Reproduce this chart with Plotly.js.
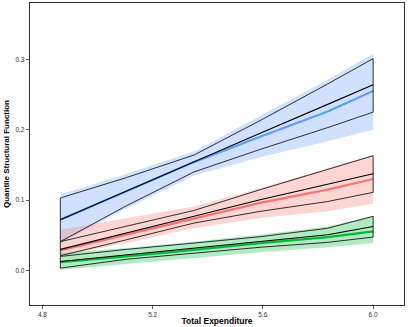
<!DOCTYPE html>
<html>
<head>
<meta charset="utf-8">
<script src="https://cdn.plot.ly/plotly-3.0.1.min.js"></script>
<style>html,body{margin:0;padding:0;background:#fff;}#chart{width:409px;height:327px;}</style>
</head>
<body>
<div id="chart"></div>
<script>
// Total expenditure grid
var expenditure = [4.865, 5.105, 5.35, 5.59, 5.835, 6.0];

// Upper quantile (blue)
var blueBandUpper  = [0.108, 0.137, 0.169, 0.219, 0.271, 0.308];
var blueBandLower  = [0.039, 0.088, 0.135, 0.161, 0.1835, 0.200];
var blueLine       = [0.072, 0.113, 0.154, 0.190, 0.226, 0.255];
var blueBlackUpper = [0.103, 0.132, 0.164, 0.213, 0.265, 0.301];
var blueBlackMid   = [0.072, 0.113, 0.154, 0.195, 0.236, 0.264];
var blueBlackLower = [0.041, 0.092, 0.140, 0.172, 0.203, 0.225];

// Median quantile (red)
var redBandUpper  = [0.058, 0.0745, 0.091, 0.117, 0.1456, 0.1646];
var redBandLower  = [0.021, 0.039, 0.060, 0.0745, 0.084, 0.095];
var redLine       = [0.0285, 0.0508, 0.0745, 0.096, 0.115, 0.130];
var redBlackUpper = [0.041, 0.0626, 0.0853, 0.1148, 0.143, 0.163];
var redBlackMid   = [0.030, 0.053, 0.077, 0.1006, 0.122, 0.1375];
var redBlackLower = [0.021, 0.0437, 0.0674, 0.084, 0.098, 0.111];

// Lower quantile (green)
var greenBandUpper  = [0.0247, 0.032, 0.041, 0.0508, 0.0626, 0.077];
var greenBandLower  = [0.001, 0.0095, 0.0176, 0.026, 0.033, 0.039];
var greenLine       = [0.012, 0.020, 0.0294, 0.039, 0.0475, 0.0555];
var greenBlackUpper = [0.020, 0.030, 0.039, 0.048, 0.060, 0.077];
var greenBlackMid   = [0.0128, 0.0223, 0.032, 0.041, 0.0508, 0.0626];
var greenBlackLower = [0.0034, 0.016, 0.0247, 0.033, 0.040, 0.0475];

var xTicks = [4.8, 5.2, 5.6, 6.0];
var xTickText = ["4.8", "5.2", "5.6", "6.0"];
var yTicks = [0.0, 0.1, 0.2, 0.3];
var yTickText = ["0.0", "0.1", "0.2", "0.3"];

function rev(a){ return a.slice().reverse(); }

function band(upper, lower, color){
  return {x: expenditure.concat(rev(expenditure)), y: upper.concat(rev(lower)),
    type:'scatter', mode:'lines', fill:'toself', fillcolor:color,
    line:{width:0}, hoverinfo:'skip', showlegend:false};
}
function outline(upper, lower){
  var xs = expenditure.concat(rev(expenditure)).concat([expenditure[0]]);
  var ys = upper.concat(rev(lower)).concat([upper[0]]);
  return {x: xs, y: ys, type:'scatter', mode:'lines',
    line:{color:'#1a1a1a', width:0.9}, hoverinfo:'skip', showlegend:false};
}
function line(y, color, w){
  return {x: expenditure, y: y, type:'scatter', mode:'lines',
    line:{color:color, width:w}, showlegend:false};
}

var data = [
  band(blueBandUpper, blueBandLower, 'rgba(97,156,255,0.3)'),
  band(redBandUpper, redBandLower, 'rgba(248,118,109,0.3)'),
  band(greenBandUpper, greenBandLower, 'rgba(0,186,56,0.3)'),
  line(blueLine, '#619CFF', 2.2),
  line(redLine, '#F8766D', 2.2),
  line(greenLine, '#00BA38', 2.2),
  outline(blueBlackUpper, blueBlackLower),
  outline(redBlackUpper, redBlackLower),
  outline(greenBlackUpper, greenBlackLower),
  line(blueBlackMid, '#000000', 1.1),
  line(redBlackMid, '#000000', 1.1),
  line(greenBlackMid, '#000000', 1.1)
];

var tickFont = {family:'Liberation Sans, Arial, sans-serif', size:6.5, color:'#333333'};
var layout = {
  width:409, height:327,
  margin:{l:30, r:5, t:3, b:22},
  paper_bgcolor:'#ffffff', plot_bgcolor:'#ffffff',
  showlegend:false,
  xaxis:{range:[4.755, 6.112], tickvals:xTicks, ticktext:xTickText,
    showgrid:false, zeroline:false, showline:true, mirror:true,
    linecolor:'#333333', linewidth:1.2, ticks:'outside', ticklen:3, tickwidth:0.8,
    tickcolor:'#333333', tickfont:tickFont,
    title:{text:'<b>Total Expenditure</b>', standoff:1,
      font:{family:'Liberation Sans, Arial, sans-serif', size:8.5, color:'#000000'}}},
  yaxis:{range:[-0.049, 0.38], tickvals:yTicks, ticktext:yTickText,
    showgrid:false, zeroline:false, showline:true, mirror:true,
    linecolor:'#333333', linewidth:1.2, ticks:'outside', ticklen:3, tickwidth:0.8,
    tickcolor:'#333333', tickfont:tickFont,
    title:{text:'<b>Quantile Structural Function</b>', standoff:4,
      font:{family:'Liberation Sans, Arial, sans-serif', size:8, color:'#000000'}}}
};

Plotly.newPlot('chart', data, layout, {displayModeBar:false, staticPlot:true});
</script>
</body>
</html>
